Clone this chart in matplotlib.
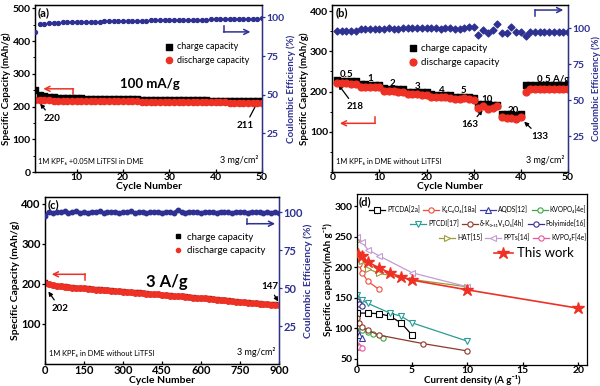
import matplotlib
matplotlib.use('Agg')
import matplotlib.pyplot as plt
from matplotlib.ticker import MultipleLocator
import numpy as np

plt.rcParams['font.family'] = ['Lato', 'DejaVu Sans']
plt.rcParams['axes.linewidth'] = 0.9

RED = '#EE3124'
BLUE = '#2E3192'

# ---------------- (a) 100 mA/g ----------------
cycles_a = np.arange(1, 51)
charge_a = [250, 236, 231, 229, 228, 227, 226, 226, 225, 225,
            225, 224, 224, 224, 224, 223, 223, 223, 223, 222,
            222, 222, 222, 221, 221, 221, 221, 221, 220, 220,
            220, 220, 220, 219, 219, 219, 219, 219, 218, 218,
            218, 218, 217, 217, 217, 217, 217, 216, 216, 216]
discharge_a = [220, 219, 219, 219, 218, 218, 218, 218, 218, 218,
               217, 217, 217, 217, 217, 217, 217, 216, 216, 216,
               216, 216, 216, 215, 215, 215, 215, 215, 215, 214,
               214, 214, 214, 214, 214, 214, 213, 213, 213, 213,
               213, 213, 212, 212, 212, 212, 212, 211, 211, 211]
ce_a = [90.7, 95.5, 96.0, 96.3, 96.5, 96.6, 96.7, 96.8, 96.9, 97.0,
        97.1, 97.1, 97.2, 97.3, 97.3, 97.4, 97.4, 97.5, 97.5, 97.6,
        97.7, 97.7, 97.8, 97.8, 97.9, 98.0, 98.0, 98.1, 98.1, 98.2,
        98.3, 98.3, 98.4, 98.4, 98.5, 98.5, 98.6, 98.6, 98.7, 98.7,
        98.8, 98.8, 98.9, 98.9, 99.0, 99.0, 99.1, 99.1, 99.2, 99.3]

# ---------------- (b) rate test ----------------
cycles_b = np.arange(1, 51)
charge_b = [228, 227, 227, 226, 226, 219, 218, 217, 217, 217,
            208, 207, 207, 207, 206, 200, 199, 199, 198, 198,
            193, 192, 192, 191, 191, 187, 187, 186, 186, 185,
            169, 168, 168, 167, 167, 144, 143, 143, 142, 143,
            216, 216, 216, 216, 216, 216, 216, 215, 215, 215]
discharge_b = [221, 220, 220, 219, 219, 212, 211, 211, 210, 210,
               202, 201, 201, 200, 200, 194, 193, 193, 192, 192,
               187, 186, 186, 186, 185, 181, 182, 183, 181, 180,
               158, 163, 157, 159, 164, 136, 135, 135, 132, 137,
               199, 207, 207, 207, 207, 207, 207, 206, 206, 206]
ce_b = [98.1, 98.0, 98.1, 98.0, 98.1, 99.3, 99.2, 99.3, 99.2, 99.3,
        99.5, 99.8, 99.6, 99.5, 99.7, 99.8, 99.9, 99.8, 99.7, 99.8,
        99.9, 99.8, 99.6, 99.9, 99.8, 99.6, 99.5, 99.8, 100.5, 100.4,
        95.4, 98.5, 96.8, 98.7, 102.7, 96.3, 96.3, 101.0, 97.0, 97.0,
        94.2, 97.0, 97.0, 97.0, 97.0, 97.0, 97.0, 97.0, 97.0, 97.0]
rate_labels = ['0.5', '1', '2', '3', '4', '5', '10', '20', '0.5 A/g']
rate_label_x = [3.1, 8.1, 12.8, 18.0, 23.2, 27.9, 32.9, 38.3, 46.8]
rate_label_y = [242, 233, 221, 212, 202, 202, 179, 154, 229]

# ---------------- (c) 3 A/g long cycling ----------------
cycles_c = [1] + list(range(15, 901, 15))
discharge_c = [202, 199, 197, 195, 194, 193, 192, 191, 190, 190,
               189, 188, 187, 186, 186, 185, 184, 183, 182, 182,
               181, 180, 179, 178, 178, 177, 176, 175, 174, 174,
               172, 172, 171, 170, 170, 169, 168, 167, 166, 165,
               164, 164, 163, 162, 161, 160, 159, 158, 157, 156,
               155, 154, 153, 152, 152, 151, 150, 149, 148, 148, 147]
charge_c = [204, 200, 198, 196, 195, 194, 193, 192, 191, 191,
            190, 189, 188, 187, 187, 186, 185, 184, 183, 183,
            182, 181, 180, 179, 179, 178, 177, 176, 175, 175,
            173, 173, 172, 171, 171, 170, 169, 168, 167, 166,
            165, 165, 164, 163, 162, 161, 160, 159, 158, 157,
            156, 155, 154, 153, 153, 152, 151, 150, 149, 149, 148]
ce_c = [97.5, 100.4, 99.6, 100.2, 99.8, 100.5, 99.5, 100.1, 100.6, 99.7,
        100.0, 99.4, 100.3, 99.9, 100.5, 99.6, 100.2, 99.8, 100.4, 99.5,
        100.1, 99.9, 100.6, 99.6, 100.0, 100.3, 99.5, 100.2, 99.8, 100.4,
        99.7, 100.1, 100.3, 99.6, 101.4, 100.2, 99.7, 100.4, 99.8, 100.1,
        99.5, 100.3, 99.9, 100.2, 99.6, 100.4, 99.8, 100.0, 99.5, 100.3,
        99.9, 100.1, 99.6, 100.4, 99.8, 100.0, 99.5, 100.2, 99.7, 100.1, 99.4]

# ---------------- (d) rate comparison ----------------
series_d = [
    ('PTCDA[2a]', 'k', 's', [0.05, 1, 2, 3, 4, 5], [125, 125, 124, 120, 109, 89]),
    ('K₂C₆O₆[18a]', '#F04E3A', 'o', [0.05, 0.2, 0.5, 1, 2], [222, 205, 191, 177, 164]),
    ('AQDS[12]', '#3A3AA8', '^', [0.05, 0.2, 0.5], [95, 89, 84]),
    ('KVOPO₄[4e]', '#3DA641', 'o', [0.05, 0.2, 0.5, 1, 1.5, 2.4], [111, 104, 98, 94, 91, 84]),
    ('PTCDI[17]', '#2A9C95', 'v', [0.05, 0.5, 1, 3, 4, 5, 10], [155, 146, 141, 125, 120, 109, 79]),
    ('δ-K₀.₅₁V₂O₅[4h]', '#8B3A2B', 'o', [0.05, 0.2, 0.5, 1, 2, 6, 10], [117, 108, 102, 97, 89, 75, 63]),
    ('Polyimide[16]', '#3B2E8E', 'o', [0.05, 0.2, 0.5], [145, 140, 136]),
    ('HAT[15]', '#9C9B3C', '>', [0.05, 0.1, 0.5, 1, 2, 5, 10], [243, 225, 210, 198, 190, 180, 168]),
    ('PPTs[14]', '#C39BD3', '<', [0.05, 0.5, 1, 2, 5, 10], [250, 241, 229, 219, 191, 168]),
    ('KVPO₄F[4e]', '#E8559C', 'o', [0.05, 0.1, 0.2, 0.5], [72, 70, 69, 68]),
]
this_x = [0.1, 0.5, 1, 2, 3, 4, 5, 10, 20]
this_y = [221, 218, 209, 199, 191, 184, 179, 163, 133]

fig = plt.figure(figsize=(6, 3.86), dpi=100)


def px_axes(l, t, r, b):
    return fig.add_axes([l / 600, 1 - b / 386, (r - l) / 600, (b - t) / 386])


def style_ticks(ax, tick_fs):
    ax.tick_params(axis='y', direction='out', length=2.5, width=0.9, labelsize=tick_fs, pad=0.5)
    ax.tick_params(axis='x', direction='in', length=2.5, width=0.9, labelsize=tick_fs, pad=1)
    ax.tick_params(which='minor', length=1.5, width=0.7)
    for lab in ax.get_xticklabels() + ax.get_yticklabels():
        lab.set_fontweight('bold')


def style_twin(ax, ax2, tick_fs):
    ax2.spines['right'].set_color(BLUE)
    ax2.tick_params(axis='y', colors=BLUE, labelsize=tick_fs, direction='out', length=2.5, width=0.9, pad=0.5)
    ax2.set_yticks([25, 50, 75, 100])
    for lab in ax2.get_yticklabels():
        lab.set_fontweight('bold')
    style_ticks(ax, tick_fs)


def bracket(ax, x0, x1, y, ytick, color):
    ax.annotate('', xy=(x1, y), xytext=(x0, y),
                arrowprops=dict(arrowstyle='->', color=color, lw=1.1,
                                shrinkA=0, shrinkB=0, mutation_scale=9))
    ax.plot([x0, x0], [y, ytick], color=color, lw=1.1)


def pointer(ax, text, xy, xytext, fs=7):
    ax.annotate(text, xy=xy, xytext=xytext, ha='center', va='center',
                fontsize=fs, fontweight='bold',
                arrowprops=dict(arrowstyle='-|>', color='k', lw=0.9,
                                shrinkA=1, shrinkB=0, mutation_scale=6))


# ---- panel a ----
axa = px_axes(35, 5, 262, 172)
axa2 = axa.twinx()
axa.scatter(cycles_a, charge_a, marker='s', s=13, color='k', label='charge capacity', zorder=3)
axa.scatter(cycles_a, discharge_a, marker='o', s=20, color=RED, label='discharge capacity', zorder=4)
axa2.scatter(cycles_a, ce_a, marker='o', s=8, color=BLUE, zorder=3)
axa.set_xlim(1, 50)
axa.set_ylim(0, 510)
axa2.set_ylim(0, 108)
axa.set_xticks([10, 20, 30, 40, 50])
axa.set_yticks([0, 100, 200, 300, 400, 500])
axa.yaxis.set_minor_locator(MultipleLocator(50))
style_twin(axa, axa2, 7.5)
axa.set_xlabel('Cycle Number', fontsize=7.5, fontweight='bold', labelpad=-0.5)
axa.set_ylabel('Specific Capacity (mAh/g)', fontsize=7, fontweight='bold', labelpad=1)
axa2.set_ylabel('Coulombic Efficiency (%)', fontsize=7, fontweight='bold', color=BLUE, labelpad=1.5)
axa.legend(loc='upper left', bbox_to_anchor=(0.55, 0.80), frameon=False, fontsize=6.5,
           handletextpad=0.3, labelspacing=0.5, borderaxespad=0, handlelength=1.2)
axa.text(0.01, 0.985, '(a)', transform=axa.transAxes, fontsize=8, fontweight='bold', va='top')
axa.text(25.9, 270, '100 mA/g', fontsize=9.5, fontweight='bold', ha='center', va='center')
axa.text(0.015, 0.04, '1M KPF₆ +0.05M LiTFSI in DME', transform=axa.transAxes, fontsize=5.4, va='bottom')
axa.text(0.985, 0.04, '3 mg/cm²', transform=axa.transAxes, fontsize=6.5, ha='right', va='bottom')
bracket(axa, 9.3, 2.8, 254, 239, RED)
bracket(axa2, 41.7, 47.5, 90.6, 94.3, BLUE)
pointer(axa, '220', (2.1, 209), (4.7, 164))
pointer(axa, '211', (49.2, 218), (46.4, 142))

# ---- panel b ----
axb = px_axes(332.3, 5, 568, 172)
axb2 = axb.twinx()
axb.scatter(cycles_b, charge_b, marker='s', s=18, color='k', label='charge capacity', zorder=3)
axb.scatter(cycles_b, discharge_b, marker='o', s=24, color=RED, label='discharge capacity', zorder=4)
axb2.scatter(cycles_b, ce_b, marker='D', s=12, color=BLUE, zorder=3)
axb.set_xlim(0, 50)
axb.set_ylim(0, 415)
axb2.set_ylim(0, 116)
axb.set_xticks([0, 10, 20, 30, 40, 50])
axb.set_yticks([100, 200, 300, 400])
axb.yaxis.set_minor_locator(MultipleLocator(50))
style_twin(axb, axb2, 7.5)
axb.set_xlabel('Cycle Number', fontsize=7.5, fontweight='bold', labelpad=-0.5)
axb.set_ylabel('Specific Capacity (mAh/g)', fontsize=7, fontweight='bold', labelpad=1)
axb2.set_ylabel('Coulombic Efficiency (%)', fontsize=6.8, fontweight='bold', color=BLUE, labelpad=0.5)
axb.legend(loc='upper left', bbox_to_anchor=(0.30, 0.79), frameon=False, fontsize=7,
           handletextpad=0.3, labelspacing=0.5, borderaxespad=0, handlelength=1.2)
axb.text(0.015, 0.985, '(b)', transform=axb.transAxes, fontsize=8, fontweight='bold', va='top')
for lab, lx, ly in zip(rate_labels, rate_label_x, rate_label_y):
    axb.text(lx, ly, lab, fontsize=7, fontweight='bold', ha='center', va='center')
axb.text(0.015, 0.04, '1M KPF₆ in DME without LiTFSI', transform=axb.transAxes, fontsize=5.4, va='bottom')
axb.text(0.985, 0.04, '3 mg/cm²', transform=axb.transAxes, fontsize=6.5, ha='right', va='bottom')
bracket(axb, 9.1, 1.6, 121, 137, RED)
bracket(axb2, 43, 49, 112.5, 108.5, BLUE)
pointer(axb, '218', (1.3, 217), (4.8, 162))
pointer(axb, '163', (31.9, 154), (29.2, 117))
pointer(axb, '133', (40.7, 125), (44.0, 88))

# ---- panel c ----
axc = px_axes(45, 197, 279, 364)
axc2 = axc.twinx()
axc.plot(cycles_c, charge_c, 's-', color='k', ms=2.5, lw=1.5, label='charge capacity', zorder=3)
axc.plot(cycles_c, discharge_c, 'o-', color=RED, ms=4, lw=3, label='discharge capacity', zorder=4)
axc2.plot(cycles_c, ce_c, 'o-', color=BLUE, ms=3.2, lw=2.2, zorder=3)
axc.set_xlim(0, 900)
axc.set_ylim(0, 417)
axc2.set_ylim(0, 110)
axc.set_xticks(range(0, 901, 150))
axc.set_yticks([100, 200, 300, 400])
style_twin(axc, axc2, 8)
axc.set_xlabel('Cycle Number', fontsize=7.5, fontweight='bold', labelpad=-0.5)
axc.set_ylabel('Specific Capacity (mAh/g)', fontsize=7.5, fontweight='bold', labelpad=1)
axc2.set_ylabel('Coulombic Efficiency (%)', fontsize=7.5, fontweight='bold', color=BLUE, labelpad=0.5)
hc = [plt.Line2D([], [], ls='none', marker='s', ms=2.5, color='k'),
      plt.Line2D([], [], ls='none', marker='o', ms=3, color=RED)]
axc.legend(hc, ['charge capacity', 'discharge capacity'], loc='upper left', bbox_to_anchor=(0.53, 0.81),
           frameon=False, fontsize=7, handletextpad=0.5, labelspacing=0.5, borderaxespad=0, handlelength=1.0)
axc.text(0.012, 0.985, '(c)', transform=axc.transAxes, fontsize=8, fontweight='bold', va='top')
axc.text(468, 206, '3 A/g', fontsize=12, fontweight='bold', ha='center', va='center')
axc.text(0.015, 0.04, '1M KPF₆ in DME without LiTFSI', transform=axc.transAxes, fontsize=5.4, va='bottom')
axc.text(0.985, 0.04, '3 mg/cm²', transform=axc.transAxes, fontsize=6.5, ha='right', va='bottom')
bracket(axc, 154, 26, 224, 210, RED)
bracket(axc2, 776, 885, 92.4, 95.7, BLUE)
pointer(axc, '202', (13, 181), (58, 139))
pointer(axc, '147', (897, 156), (863, 193))

# ---- panel d ----
axd = px_axes(356.7, 194, 587, 365)
handles = {}
for name, col, mk, xs, ys in series_d:
    h, = axd.plot(xs, ys, '-', marker=mk, color=col, mfc='white', mec=col, ms=3.8, mew=0.8, lw=0.9)
    handles[name] = h
hs, = axd.plot(this_x, this_y, '-*', color=RED, ms=9, lw=1.2, zorder=5)
axd.set_xlim(0, 20.8)
axd.set_ylim(40, 320)
axd.set_xticks([0, 5, 10, 15, 20])
axd.set_yticks([50, 100, 150, 200, 250, 300])
style_ticks(axd, 7.5)
axd.set_xlabel('Current density (A g⁻¹)', fontsize=7, fontweight='bold', labelpad=-0.5)
axd.set_ylabel('Specific capacity(mAh g⁻¹)', fontsize=7, fontweight='bold', labelpad=1)
axd.text(0.01, 0.99, '(d)', transform=axd.transAxes, fontsize=8, fontweight='bold', va='top')

rows = [['PTCDA[2a]', 'K₂C₆O₆[18a]', 'AQDS[12]', 'KVOPO₄[4e]'],
        ['PTCDI[17]', 'δ-K₀.₅₁V₂O₅[4h]', 'Polyimide[16]'],
        ['HAT[15]', 'PPTs[14]', 'KVPO₄F[4e]']]
row_y = [0.91, 0.829, 0.747]
for names, ry in zip(rows, row_y):
    leg = axd.legend([handles[n] for n in names], names, ncol=len(names), loc='center right',
                     bbox_to_anchor=(1.0, ry), frameon=False, fontsize=4.8, numpoints=1,
                     handlelength=2.4, handletextpad=0.3, columnspacing=0.5,
                     borderaxespad=0, borderpad=0.1)
    axd.add_artist(leg)
axd.legend([hs], ['This work'], loc='center right', bbox_to_anchor=(0.95, 0.653), frameon=False,
           fontsize=9.5, numpoints=1, handlelength=1.5, handletextpad=0.3, borderaxespad=0, borderpad=0.1)

fig.savefig('out.png', dpi=100)
